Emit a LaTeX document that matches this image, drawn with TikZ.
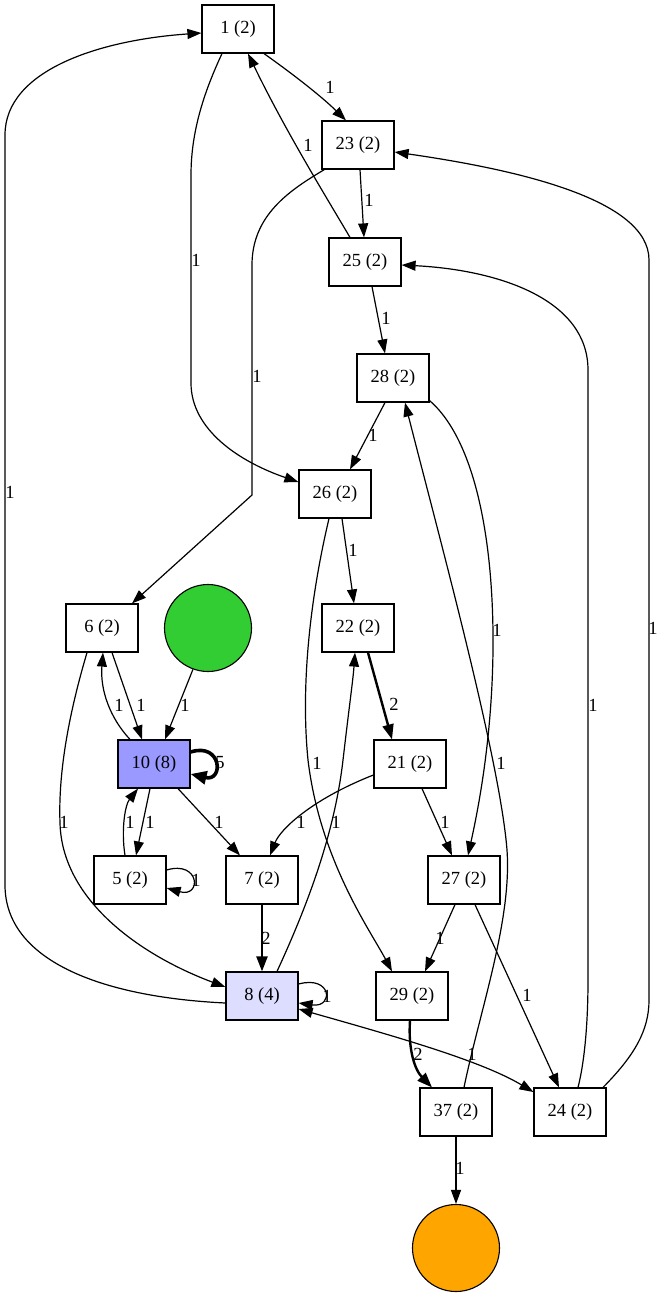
\documentclass[tikz,border=0pt]{standalone}
\usepackage{fontspec}
\setmainfont{Liberation Serif}
\usetikzlibrary{arrows.meta}
\definecolor{boxblue}{HTML}{9999FF}
\definecolor{lightblue}{HTML}{DDDDFF}
\definecolor{startgreen}{HTML}{32CD32}
\definecolor{endorange}{HTML}{FFA500}
\begin{document}
\begin{tikzpicture}[x=1pt,y=-1pt,
  box/.style={draw=black,line width=1.2pt,rectangle,minimum width=72pt,minimum height=48pt,inner sep=0pt,font=\fontsize{18.5}{20}\selectfont},
  circ/.style={draw=black,line width=1.1pt,circle,minimum size=87pt,inner sep=0pt},
  lab/.style={font=\fontsize{18.5}{20}\selectfont,inner sep=0pt},
  e/.style={draw=black,line width=1.2pt,-{Triangle[length=14pt,width=10pt]}},
  ethick/.style={e,line width=2.4pt,-{Triangle[length=15pt,width=11pt]}},
  eloop/.style={draw=black,line width=3.6pt,-{Triangle[length=16pt,width=13pt]}}]
\useasboundingbox (0,0) rectangle (664,1296);
% nodes
\node[box] (n1)  at (238,29)  {1 (2)};
\node[box] (n23) at (358,145) {23 (2)};
\node[box] (n25) at (365,262) {25 (2)};
\node[box] (n28) at (393,378) {28 (2)};
\node[box] (n26) at (335,494) {26 (2)};
\node[box] (n6)  at (102,628) {6 (2)};
\node[circ,fill=startgreen] (g) at (208,628) {};
\node[box] (n22) at (358,628) {22 (2)};
\node[box,fill=boxblue] (n10) at (154,764) {10 (8)};
\node[box] (n21) at (410,764) {21 (2)};
\node[box] (n5)  at (130,880) {5 (2)};
\node[box] (n7)  at (262,880) {7 (2)};
\node[box] (n27) at (464,880) {27 (2)};
\node[box,fill=lightblue] (n8) at (262,996) {8 (4)};
\node[box] (n29) at (412,996) {29 (2)};
\node[box] (n37) at (456,1112) {37 (2)};
\node[box] (n24) at (570,1112) {24 (2)};
\node[circ,fill=endorange] (o) at (456,1248) {};
% edges
\draw[e] ([xshift=26pt]n1.south) .. controls (290,72) and (320,95) .. ([xshift=-12pt]n23.north);
\draw[e] ([xshift=-16pt]n1.south) .. controls (205,90) and (191,130) .. (191,175) -- (191,383) .. controls (191,430) and (240,462) .. ([yshift=12pt]n26.west);
\draw[e] ([xshift=2pt]n23.south) -- ([xshift=-1pt]n25.north);
\draw[e] ([xshift=3pt]n23.south west) .. controls (290,190) and (252,215) .. (252,265) -- (252,495) -- ([xshift=30pt]n6.north);
\draw[e] ([xshift=-15pt]n25.north) .. controls (325,195) and (285,130) .. ([xshift=10pt]n1.south);
\draw[e] ([xshift=7pt]n25.south) -- ([xshift=-8pt]n28.north);
\draw[e] ([xshift=-8pt]n28.south) -- ([xshift=15pt]n26.north);
\draw[e] ([yshift=2pt]n28.south east) .. controls (475,440) and (494,540) .. (493,650) .. controls (492,740) and (478,810) .. ([xshift=4pt]n27.north);
\draw[e] ([xshift=7pt]n26.south) -- ([xshift=-4pt]n22.north);
\draw[e] ([xshift=-6pt]n26.south) .. controls (312,590) and (300,680) .. (308,760) .. controls (320,860) and (370,930) .. ([xshift=-20pt]n29.north);
\draw[ethick] ([xshift=10pt]n22.south) -- ([xshift=-18pt]n21.north);
\draw[e] ([xshift=15pt]n8.north) .. controls (310,900) and (335,830) .. (343,760) .. controls (350,700) and (353,680) .. ([xshift=-3pt]n22.south);
\draw[e] ([xshift=10pt]n6.south) -- ([xshift=-12pt]n10.north);
\draw[e] ([xshift=-24pt]n10.north) .. controls (110,718) and (100,690) .. ([xshift=1pt]n6.south);
\draw[e] (g.-110) -- ([xshift=11pt]n10.north);
\draw[eloop] ([yshift=12pt]n10.east) .. controls (222,742) and (224,782) .. ([yshift=-10pt]n10.east);
\draw[e] ([xshift=-4pt]n10.south) -- ([xshift=6pt]n5.north);
\draw[e] ([xshift=-5pt]n5.north) .. controls (121,830) and (125,805) .. ([xshift=-16pt]n10.south);
\draw[e] ([yshift=10pt]n5.east) .. controls (200,860) and (202,898) .. ([yshift=-8pt]n5.east);
\draw[e] ([xshift=24pt]n10.south) -- ([xshift=-22pt]n7.north);
\draw[e] ([yshift=-11pt]n21.west) .. controls (310,800) and (280,830) .. ([xshift=8pt]n7.north);
\draw[e] ([xshift=12pt]n21.south) -- ([xshift=-12pt]n27.north);
\draw[e] ([xshift=-15pt]n6.south) .. controls (70,710) and (58,770) .. (60,823) .. controls (62,900) and (140,955) .. ([yshift=9pt]n8.west);
\draw[e] ([yshift=-7pt]n8.west) .. controls (100,997) and (5,960) .. (5,885) -- (5,135) .. controls (5,70) and (100,40) .. ([yshift=-4pt]n1.west);
\draw[ethick] (n7.south) -- (n8.north);
\draw[e] ([yshift=12pt]n8.east) .. controls (332,975) and (334,1008) .. ([yshift=-7pt]n8.east);
\draw[e,{Triangle[length=14pt,width=10pt]}-{Triangle[length=14pt,width=10pt]}] ([yshift=-13pt]n8.east) .. controls (390,1035) and (480,1060) .. ([yshift=20pt]n24.west);
\draw[e] ([xshift=33pt]n24.north) .. controls (635,1055) and (649,1030) .. (649,1000) -- (649,260) .. controls (649,200) and (520,170) .. ([yshift=-7pt]n23.east);
\draw[e] ([xshift=8pt]n24.north) .. controls (585,1060) and (588,1020) .. (588,980) -- (588,370) .. controls (588,300) and (500,270) .. ([yshift=-3pt]n25.east);
\draw[e] ([xshift=-9pt]n27.south) -- ([xshift=13pt]n29.north);
\draw[e] ([xshift=11pt]n27.south) -- ([xshift=-11pt]n24.north);
\draw[ethick] ([xshift=-2pt]n29.south) .. controls (408,1050) and (415,1070) .. ([xshift=-24pt]n37.north);
\draw[e] ([xshift=8pt]n37.north) .. controls (480,1010) and (512,920) .. (507,850) .. controls (500,760) and (440,540) .. ([xshift=12pt]n28.south);
\draw[e] (n37.south) -- (o.north);
% labels
\node[lab] (l1) at (330,87) {1};
\node[lab] (l2) at (196,260) {1};
\node[lab] (l3) at (369,200) {1};
\node[lab] (l4) at (257,376) {1};
\node[lab] (l5) at (308,145) {1};
\node[lab] (l6) at (386,318) {1};
\node[lab] (l7) at (373,435) {1};
\node[lab] (l8) at (497,630) {1};
\node[lab] (l9) at (353,550) {1};
\node[lab] (l10) at (317,763) {1};
\node[lab] (l11) at (394,704) {2};
\node[lab] (l12) at (336,822) {1};
\node[lab] (l13) at (141,705) {1};
\node[lab] (l14) at (119,705) {1};
\node[lab] (l15) at (185,705) {1};
\node[lab] (l16) at (220,763) {5};
\node[lab] (l17) at (150,822) {1};
\node[lab] (l18) at (130,822) {1};
\node[lab] (l19) at (196,880) {1};
\node[lab] (l20) at (219,822) {1};
\node[lab] (l21) at (301,822) {1};
\node[lab] (l22) at (445,822) {1};
\node[lab] (l23) at (64,822) {1};
\node[lab] (l24) at (10,492) {1};
\node[lab] (l25) at (266,938) {2};
\node[lab] (l26) at (327,996) {1};
\node[lab] (l27) at (472,1054) {1};
\node[lab] (l28) at (653,628) {1};
\node[lab] (l29) at (593,705) {1};
\node[lab] (l30) at (440,938) {1};
\node[lab] (l31) at (527,995) {1};
\node[lab] (l32) at (418,1054) {2};
\node[lab] (l33) at (501,763) {1};
\node[lab] (l34) at (460,1168) {1};
\end{tikzpicture}
\end{document}
